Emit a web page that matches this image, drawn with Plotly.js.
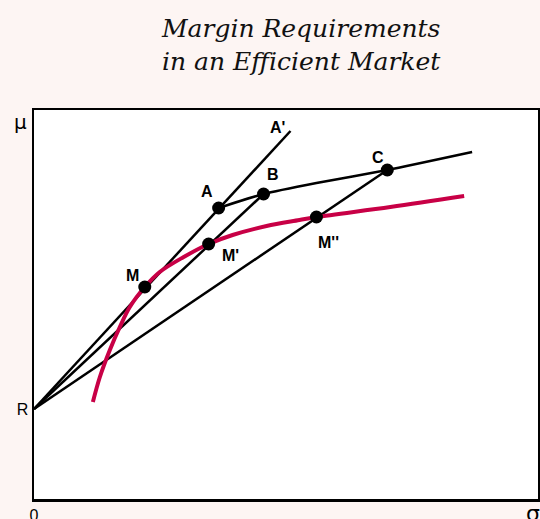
<!DOCTYPE html>
<html>
<head>
<meta charset="utf-8">
<script src="https://cdn.plot.ly/plotly-3.0.1.min.js"></script>
<style>html,body{margin:0;padding:0;background:#fdf5f3;}</style>
</head>
<body>
<div id="chart" style="width:540px;height:519px;"></div>
<script>
// Riskless rate point R (sigma = 0)
const R = [0, 90];
// Named points [sigma, mu]
const pointNames = ["A", "B", "C", "M", "M'", "M''"];
const pointX = [185, 230, 354, 111, 175, 283];
const pointY = [291, 305, 329, 212, 255, 282];
// Ends of the rays from R
const rayEndX = [257, 230, 354];
const rayEndY = [368, 305, 329];
const rayLabel = ["A'", "", ""];
// Leveraged efficient frontier (black upper curve, from A)
const upperX = [185, 230, 283, 354, 439];
const upperY = [291, 305, 316, 329, 347];
// Efficient frontier of risky assets (red curve)
const frontX = [59, 66, 76, 86, 96, 111, 126, 150, 175, 199, 233, 266, 283, 357, 431];
const frontY = [97, 122, 149, 172, 192, 212, 227, 242, 255, 264, 273, 279, 282, 292, 303];
// Axis tick labels
const xTickVals = [0], xTickText = ["0"];
const yTickVals = [R[1]], yTickText = ["R"];
const titleText = "Margin Requirements<br>in an Efficient Market";

const black = "#000000", red = "#c80046";
const traces = [];
for (let i = 0; i < rayEndX.length; i++) {
  traces.push({x: [R[0], rayEndX[i]], y: [R[1], rayEndY[i]], mode: "lines",
    line: {color: black, width: 2.5}, hoverinfo: "skip"});
}
traces.push({x: upperX, y: upperY, mode: "lines", line: {color: black, width: 2.5, shape: "spline", smoothing: 0.6}, hoverinfo: "skip"});
traces.push({x: frontX, y: frontY, mode: "lines", line: {color: red, width: 4, shape: "spline", smoothing: 1}, hoverinfo: "skip"});
traces.push({x: pointX, y: pointY, mode: "markers", marker: {color: black, size: 13}, hoverinfo: "skip"});

const shifts = {"A": [-12, 17], "B": [9, 20], "C": [-9, 13], "M": [-12, 12], "M'": [22, -11], "M''": [12, -25]};
const lblFont = {family: "Liberation Sans, Arial, sans-serif", size: 16, color: black};
const annotations = pointNames.map((n, i) => ({
  x: pointX[i], y: pointY[i], text: "<b>" + n + "</b>", showarrow: false,
  xshift: shifts[n][0], yshift: shifts[n][1], font: lblFont
}));
annotations.push({x: rayEndX[0], y: rayEndY[0], text: "<b>" + rayLabel[0] + "</b>", showarrow: false,
  xshift: -13, yshift: 4, font: lblFont});
annotations.push({xref: "paper", yref: "paper", x: 0, y: 1, text: "μ", showarrow: false,
  xanchor: "center", yanchor: "middle", xshift: -14, yshift: -12,
  font: {family: "DejaVu Sans, sans-serif", size: 20, color: black}});
annotations.push({xref: "paper", yref: "paper", x: 1, y: 0, text: "σ", showarrow: false,
  xanchor: "center", yanchor: "middle", xshift: -5, yshift: -14,
  font: {family: "DejaVu Sans, sans-serif", size: 22, color: black}});
// Title
annotations.push({xref: "paper", yref: "paper", x: 0.53, y: 1.166, xanchor: "center", yanchor: "middle",
  text: "<i>" + titleText + "</i>", showarrow: false,
  font: {family: "DejaVu Serif, serif", size: 25, color: "#111"}});

const layout = {
  width: 540, height: 519,
  paper_bgcolor: "#fdf5f3", plot_bgcolor: "#ffffff",
  margin: {l: 34, r: 2, t: 110, b: 20, pad: 0},
  showlegend: false,
  xaxis: {range: [0, 505], showgrid: false, zeroline: false, showline: true, mirror: true,
    linecolor: black, linewidth: 2.5, tickvals: xTickVals, ticktext: xTickText, ticks: "",
    tickfont: {family: "Liberation Sans, Arial, sans-serif", size: 16, color: black}, fixedrange: true},
  yaxis: {range: [0, 389], showgrid: false, zeroline: false, showline: true, mirror: true,
    linecolor: black, linewidth: 2.5, tickvals: yTickVals, ticktext: yTickText, ticks: "",
    tickfont: {family: "Liberation Sans, Arial, sans-serif", size: 16, color: black}, fixedrange: true},
  annotations: annotations
};
Plotly.newPlot("chart", traces, layout, {displayModeBar: false, staticPlot: true});
</script>
</body>
</html>
